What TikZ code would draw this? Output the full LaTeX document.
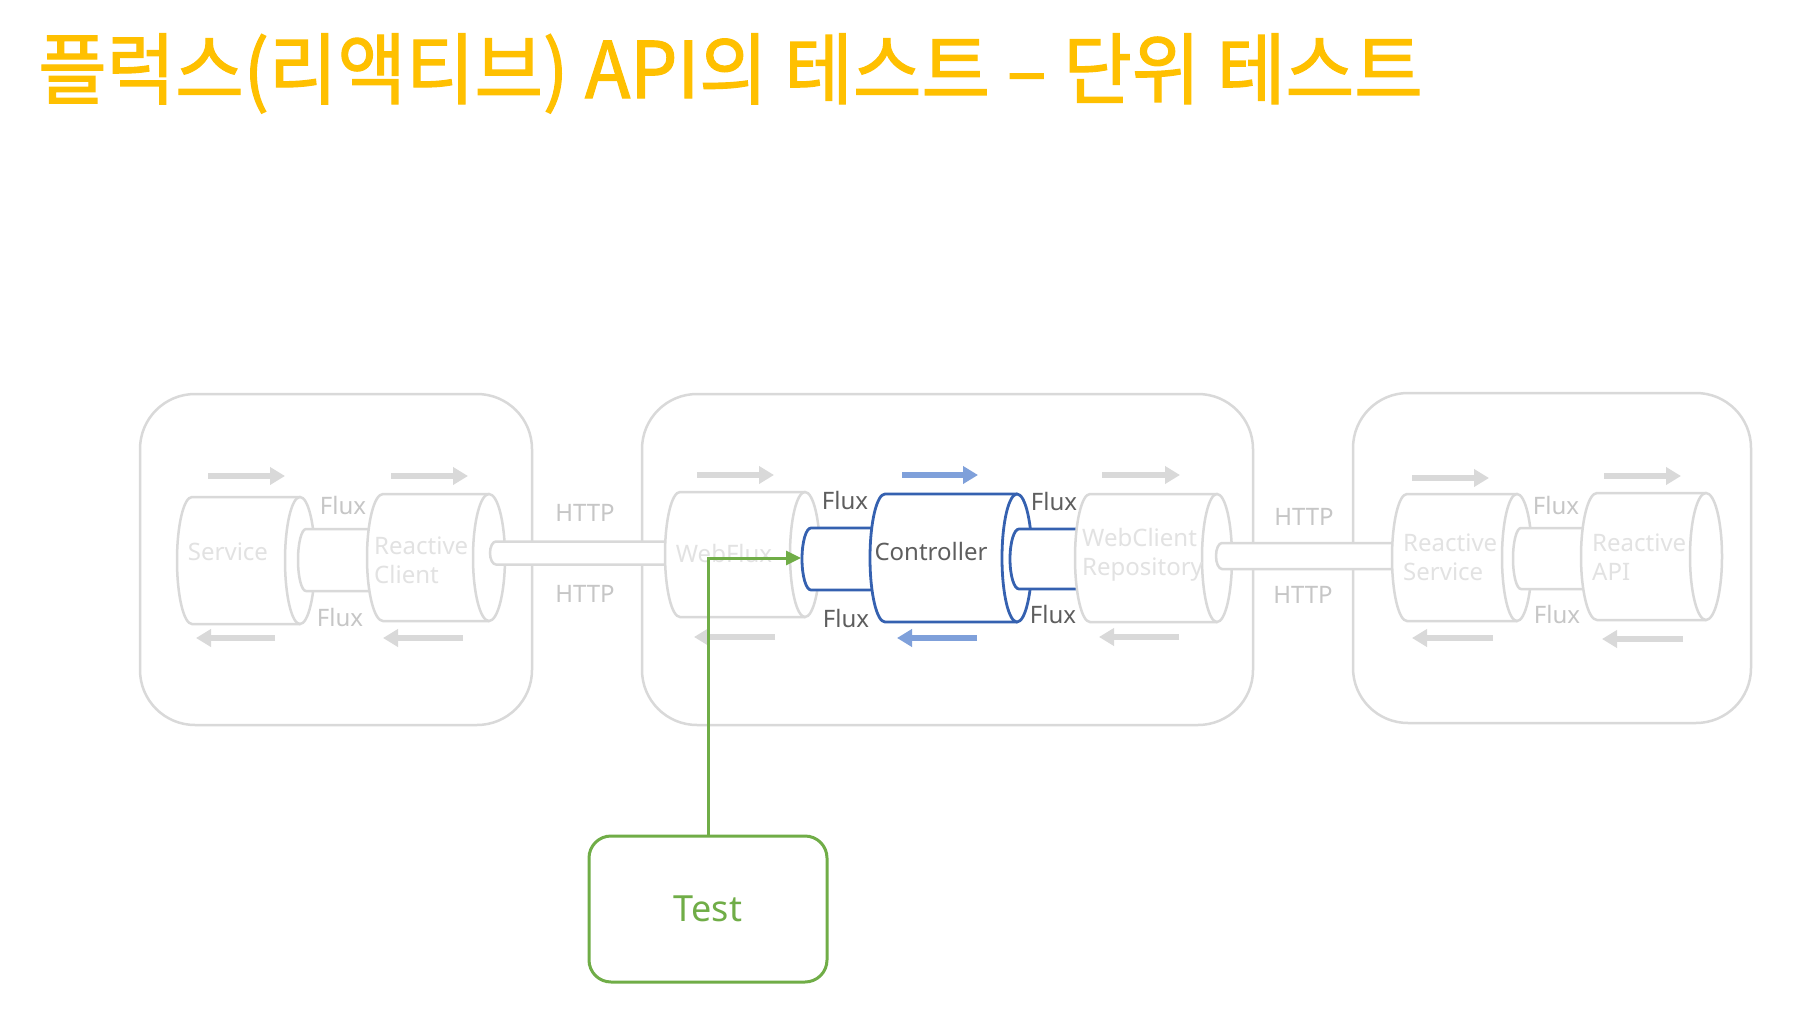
\documentclass[tikz,border=0pt]{standalone}
\usepackage{fontspec}
\usepackage{graphicx}
\setmainfont{Noto Sans}
\newfontfamily\krfont{Noto Sans CJK KR}[FakeBold=1.6]
\usetikzlibrary{arrows.meta}
\definecolor{ttl}{HTML}{FFC000}
\definecolor{lg}{HTML}{D9D9D9}
\definecolor{fade}{HTML}{E2E2E2}
\definecolor{midg}{HTML}{C6C6C6}
\definecolor{dk}{HTML}{5E5E5E}
\definecolor{bl}{HTML}{3561B0}
\definecolor{lbl}{HTML}{7FA0DA}
\definecolor{gr}{HTML}{70AD47}
\newcommand\hcyl[6]{%
  \fill[white] (#2,#3-#5) -- (#1,#3-#5) arc[start angle=270,end angle=90,x radius=#4,y radius=#5] -- (#2,#3+#5) -- cycle;
  \draw[#6] (#2,#3-#5) -- (#1,#3-#5) arc[start angle=270,end angle=90,x radius=#4,y radius=#5] -- (#2,#3+#5);
  \draw[#6,fill=white] (#2,#3) ellipse[x radius=#4,y radius=#5];}
\newcommand\hrod[6]{%
  \fill[white] (#2,#3-#5) -- (#1,#3-#5) arc[start angle=270,end angle=90,x radius=#4,y radius=#5] -- (#2,#3+#5) -- cycle;
  \draw[#6] (#2,#3-#5) -- (#1,#3-#5) arc[start angle=270,end angle=90,x radius=#4,y radius=#5] -- (#2,#3+#5);}
\tikzset{
  grayline/.style={draw=lg,line width=2.5pt},
  blueline/.style={draw=bl,line width=2.8pt},
  outerbox/.style={draw=lg,line width=2.5pt,rounded corners=55pt,inner sep=0pt,outer sep=0pt},
  flowarrow/.style={line width=5.5pt,-{Triangle[length=15pt,width=17pt]}},
  fadelbl/.style={text=fade,font=\fontsize{24}{29}\selectfont,inner sep=0pt},
  fluxlbl/.style={font=\fontsize{24}{29}\selectfont,inner sep=0pt},
}
\begin{document}
\begin{tikzpicture}[x=1pt,y=-1pt]
\useasboundingbox (0,0) rectangle (1816,1036);
\fill[white] (0,0) rectangle (1816,1036);
% title
\node[anchor=base west,inner sep=0pt,text=ttl] (title) at (38,98)
  {\scalebox{0.955}[1]{\krfont\fontsize{78}{90}\selectfont 플럭스(리액티브) API의 테스트 – 단위 테스트}};
% outer boxes
\node[outerbox,minimum width=392pt,minimum height=331pt] (boxL) at (336,559.5) {};
\node[outerbox,minimum width=611pt,minimum height=331pt] (boxM) at (947.5,559.5) {};
\node[outerbox,minimum width=398pt,minimum height=330pt] (boxR) at (1552,558) {};
% left group
\hcyl{192}{300}{560.5}{15}{63.5}{grayline}
\hrod{306}{390}{560}{8}{31}{grayline}
\hcyl{383}{489}{557.5}{16}{63.5}{grayline}
% left HTTP pipe
\hrod{496}{690}{553}{6}{11.5}{grayline}
% middle group
\hcyl{680}{805}{554.5}{15}{62.5}{grayline}
\hrod{811}{890}{559}{9}{31}{blueline}
\hcyl{885}{1017}{558}{15}{64}{blueline}
\hrod{1019}{1095}{559}{9}{30}{blueline}
\hcyl{1090}{1217}{558}{15}{64}{grayline}
% right HTTP pipe
\hrod{1222}{1412}{556}{6}{13}{grayline}
% right group
\hcyl{1407}{1517}{557.5}{15}{63.5}{grayline}
\hrod{1521}{1600}{558.5}{8}{30.5}{grayline}
\hcyl{1597}{1706}{556.5}{16}{63.5}{grayline}
% gray flow arrows
\draw[flowarrow,lg] (208,476) -- (285,476);
\draw[flowarrow,lg] (391,476) -- (468,476);
\draw[flowarrow,lg] (275,638) -- (196,638);
\draw[flowarrow,lg] (463,638) -- (383,638);
\draw[flowarrow,lg] (697,475) -- (774,475);
\draw[flowarrow,lg] (1102,475) -- (1180,475);
\draw[flowarrow,lg] (775,637) -- (694,637);
\draw[flowarrow,lg] (1179,637) -- (1099,637);
\draw[flowarrow,lg] (1412,478) -- (1489,478);
\draw[flowarrow,lg] (1604,476) -- (1681,476);
\draw[flowarrow,lg] (1493,638) -- (1412,638);
\draw[flowarrow,lg] (1683,639) -- (1602,639);
% blue flow arrows
\draw[flowarrow,lbl] (902,475) -- (978,475);
\draw[flowarrow,lbl] (977,638) -- (897,638);
% labels
\node[fadelbl] (svc) at (228,552) {Service};
\node[fadelbl,anchor=west,align=left] (rc) at (374,560) {Reactive\\Client};
\node[fadelbl] (wf) at (724,553) {WebFlux};
\node[fadelbl,anchor=west,align=left] (wcr) at (1082,555) {WebClient\\Repository};
\node[fadelbl,anchor=west,align=left] (rs) at (1403,557) {Reactive\\Service};
\node[fadelbl,anchor=west,align=left] (rapi) at (1592,557) {Reactive\\API};
\node[fluxlbl,text=dk] (ctrl) at (931,551) {Controller};
\node[fluxlbl,text=midg] (fl1) at (343,505) {Flux};
\node[fluxlbl,text=midg] (fl2) at (340,617) {Flux};
\node[fluxlbl,text=dk] (fm1) at (845,500) {Flux};
\node[fluxlbl,text=dk] (fm2) at (846,618) {Flux};
\node[fluxlbl,text=dk] (fm3) at (1054,501) {Flux};
\node[fluxlbl,text=dk] (fm4) at (1053,614) {Flux};
\node[fluxlbl,text=midg] (fr1) at (1556,505) {Flux};
\node[fluxlbl,text=midg] (fr2) at (1557,614) {Flux};
\node[fluxlbl,text=midg] (h1) at (585,513) {HTTP};
\node[fluxlbl,text=midg] (h2) at (585,594) {HTTP};
\node[fluxlbl,text=midg] (h3) at (1304,517) {HTTP};
\node[fluxlbl,text=midg] (h4) at (1303,595) {HTTP};
% test
\node[draw=gr,line width=3pt,rounded corners=22pt,minimum width=238pt,minimum height=146pt,
  inner sep=0pt,outer sep=0pt,text=gr,font=\fontsize{36}{43}\selectfont] (test) at (708,909) {Test};
\coordinate (tip) at (801,558);
\draw[gr,line width=3pt,-{Triangle[length=15pt,width=14pt]}] (test.north) |- (tip);
\end{tikzpicture}
\end{document}
